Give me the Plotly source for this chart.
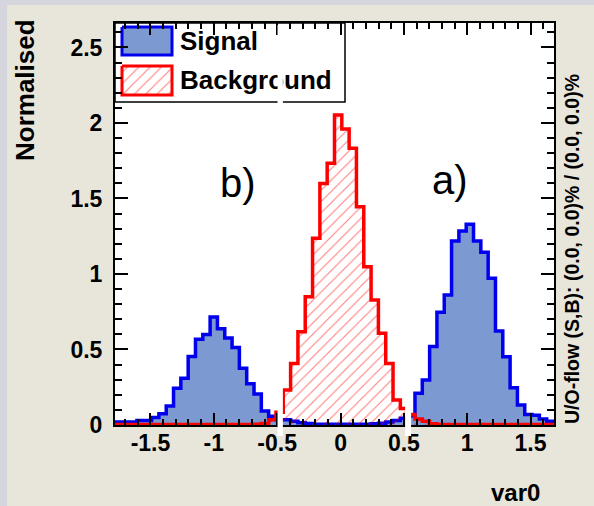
import numpy as np
import plotly.graph_objects as go

# ---------------- data ----------------
bin_lo, bin_hi, n_bins = -1.78, 1.685, 60

signal = [0.02, 0.02, 0.02, 0.03, 0.03, 0.05, 0.075, 0.125, 0.243, 0.309,
          0.453, 0.567, 0.60, 0.715, 0.638, 0.576, 0.513, 0.375, 0.273, 0.205,
          0.093, 0.058, 0.035,
          0.035, 0.025, 0.015, 0.01, 0.005, 0.005, 0.005, 0.005, 0.005, 0.005,
          0.005, 0.005, 0.008, 0.012, 0.02, 0.03, 0.045,
          0.06, 0.21, 0.298, 0.519, 0.746, 0.861, 1.219, 1.285, 1.329, 1.219,
          1.144, 0.971, 0.623, 0.452, 0.247, 0.132, 0.07, 0.065, 0.04, 0.025]

background = [0.003] * 19 + [0.005,
              0.01, 0.035, 0.085,
              0.232, 0.408, 0.618, 0.85, 1.236, 1.60, 1.733, 2.053, 1.96, 1.832,
              1.446, 1.048, 0.828, 0.607, 0.408, 0.166, 0.11,
              0.07, 0.04, 0.025, 0.008] + [0.003] * 16

x_tickvals = [-1.5, -1, -0.5, 0, 0.5, 1, 1.5]
x_ticktext = ["-1.5", "-1", "-0.5", "0", "0.5", "1", "1.5"]
y_tickvals = [0, 0.5, 1, 1.5, 2, 2.5]
y_ticktext = ["0", "0.5", "1", "1.5", "2", "2.5"]

series_names = ["Signal", "Background"]
panel_labels = ["b)", "a)"]
x_title = "var0"
y_title = "Normalised"
right_title = "U/O-flow (S,B): (0.0, 0.0)% / (0.0, 0.0)%"

# ---------------- layout helpers ----------------
W, H = 594, 506
L, R, T, B = 115, 40, 23, 81
PW, PH = W - L - R, H - T - B


def px(xp):
    return (xp - L) / PW


def py(yp):
    return (H - B - yp) / PH


FONT = "Liberation Sans, Arial, sans-serif"
SIG_FILL = "#7d99d1"
SIG_LINE = "#0000ee"
BKG_LINE = "#ff0000"

edges = np.linspace(bin_lo, bin_hi, n_bins + 1)


def step(vals):
    xs = [edges[0]] + list(edges[:-1]) + [edges[-1], edges[-1]]
    ys = [0] + list(vals) + [vals[-1], 0]
    return xs, ys


fig = go.Figure()

sx, sy = step(signal)
fig.add_trace(go.Scatter(x=sx, y=sy, mode="lines", line_shape="hv",
                         line=dict(color=SIG_LINE, width=3.5),
                         fill="tozeroy", fillcolor=SIG_FILL,
                         showlegend=False, hoverinfo="skip"))
bx, by = step(background)
fig.add_trace(go.Scatter(x=bx, y=by, mode="lines", line_shape="hv",
                         line=dict(color=BKG_LINE, width=3.5),
                         fill="tozeroy", fillcolor="rgba(0,0,0,0)",
                         fillpattern=dict(shape="/", fgcolor=BKG_LINE,
                                          bgcolor="rgba(0,0,0,0)",
                                          size=8, solidity=0.14),
                         showlegend=False, hoverinfo="skip"))

# legend swatches and labels (pixel-coordinate overlay axes)
fig.add_trace(go.Scatter(x=[122, 172, 172, 122, 122], y=[27, 27, 55, 55, 27],
                         xaxis="x2", yaxis="y2", mode="lines", fill="toself",
                         fillcolor=SIG_FILL, line=dict(color=SIG_LINE, width=3),
                         showlegend=False, hoverinfo="skip"))
fig.add_trace(go.Scatter(x=[122, 172, 172, 122, 122], y=[66, 66, 95, 95, 66],
                         xaxis="x2", yaxis="y2", mode="lines", fill="toself",
                         fillcolor="white",
                         fillpattern=dict(shape="/", fgcolor=BKG_LINE,
                                          bgcolor="white", size=8, solidity=0.14),
                         line=dict(color=BKG_LINE, width=3),
                         showlegend=False, hoverinfo="skip"))
fig.add_trace(go.Scatter(x=[180, 180], y=[43, 82], xaxis="x2", yaxis="y2",
                         mode="text", text=series_names, textposition="middle right",
                         textfont=dict(family=FONT, size=26, color="black",
                                       weight="bold"),
                         showlegend=False, hoverinfo="skip", cliponaxis=False))

shapes = []
# outer lavender border strips
shapes.append(dict(type="rect", xref="paper", yref="paper", x0=px(0), x1=px(7),
                   y0=py(H), y1=py(0), fillcolor="#d5d5de", line=dict(width=0),
                   layer="below"))
shapes.append(dict(type="rect", xref="paper", yref="paper", x0=px(0), x1=px(W),
                   y0=py(5), y1=py(0), fillcolor="#d5d5de", line=dict(width=0),
                   layer="below"))
# legend box
shapes.append(dict(type="rect", xref="x2", yref="y2", x0=115, x1=345, y0=23, y1=102,
                   fillcolor="white", line=dict(color="black", width=1.5),
                   layer="below"))
# white splice strips
for x0, x1 in [(-0.497, -0.455), (0.51, 0.557)]:
    shapes.append(dict(type="rect", xref="x", yref="paper", x0=x0, x1=x1,
                       y0=py(436), y1=py(25), fillcolor="white",
                       line=dict(width=0), layer="above"))

annotations = []
annotations.append(dict(x=px(238), y=py(183), xref="paper", yref="paper",
                        text=panel_labels[0], showarrow=False, xanchor="center",
                        yanchor="middle", font=dict(family=FONT, size=40, color="black")))
annotations.append(dict(x=px(450), y=py(180), xref="paper", yref="paper",
                        text=panel_labels[1], showarrow=False, xanchor="center",
                        yanchor="middle", font=dict(family=FONT, size=40, color="black")))
annotations.append(dict(x=px(542), y=py(492), xref="paper", yref="paper",
                        text=x_title, showarrow=False, xanchor="right",
                        yanchor="middle",
                        font=dict(family=FONT, size=24, color="black", weight="bold")))
annotations.append(dict(x=px(25), y=py(17), xref="paper", yref="paper",
                        text=y_title, showarrow=False, xanchor="center",
                        yanchor="top", textangle=-90,
                        font=dict(family=FONT, size=26, color="black", weight="bold")))
annotations.append(dict(x=px(572), y=py(426), xref="paper", yref="paper",
                        text=right_title, showarrow=False, xanchor="center",
                        yanchor="bottom", textangle=-90,
                        font=dict(family=FONT, size=19.5, color="black", weight="bold")))

fig.update_layout(
    width=W, height=H,
    margin=dict(l=L, r=R, t=T, b=B, pad=0),
    paper_bgcolor="#e8e6da", plot_bgcolor="white",
    showlegend=False,
    shapes=shapes, annotations=annotations,
    xaxis=dict(range=[bin_lo, bin_hi], tickvals=x_tickvals, ticktext=x_ticktext,
               ticks="inside", ticklen=12, tickwidth=1.5, tickcolor="black",
               minor=dict(dtick=0.1, tick0=0, ticks="inside", ticklen=6,
                          tickwidth=1.5, tickcolor="black"),
               showline=True, linecolor="black", linewidth=2, mirror="ticks",
               showgrid=False, zeroline=False, ticklabelstandoff=-4,
               tickfont=dict(family=FONT, size=23, color="black", weight="bold")),
    yaxis=dict(range=[0, 2.662], tickvals=y_tickvals, ticktext=y_ticktext,
               ticks="inside", ticklen=13, tickwidth=1.5, tickcolor="black",
               minor=dict(dtick=0.1, tick0=0, ticks="inside", ticklen=7,
                          tickwidth=1.5, tickcolor="black"),
               showline=True, linecolor="black", linewidth=2, mirror="ticks",
               showgrid=False, zeroline=False, ticklabelstandoff=6,
               tickfont=dict(family=FONT, size=23, color="black", weight="bold")),
    xaxis2=dict(range=[L, W - R], overlaying="x", anchor="y2", visible=False,
                fixedrange=True),
    yaxis2=dict(range=[H - B, T], overlaying="y", anchor="x2", visible=False,
                fixedrange=True),
)

fig.write_html("out.html",
               config={"displayModeBar": False},
               post_script="document.body.style.margin='0';"
                           "document.body.style.overflow='hidden';")
